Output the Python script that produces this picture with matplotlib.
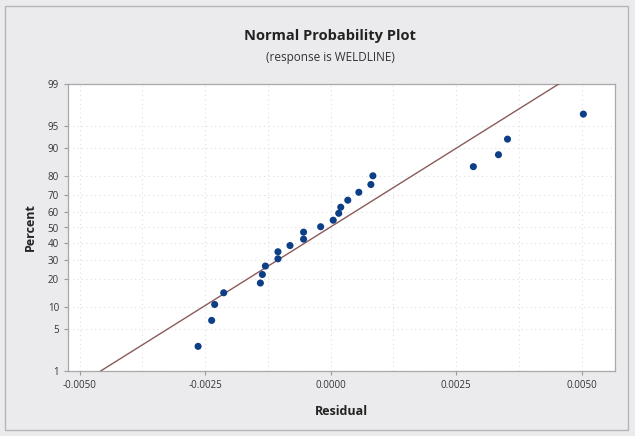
import numpy as np
import matplotlib
matplotlib.use("Agg")
import matplotlib.pyplot as plt
import matplotlib.patches as mpatches
from statistics import NormalDist

# residuals and their plotted percentiles
residual = [-0.00264, -0.00237, -0.00231, -0.00213, -0.00140, -0.00136,
            -0.00130, -0.00105, -0.00105, -0.00081, -0.00054, -0.00054,
            -0.00020, 0.00005, 0.00016, 0.00020, 0.00034, 0.00056,
            0.00080, 0.00084, 0.00284, 0.00334, 0.00352, 0.00503]
percent = [2.7, 6.6, 10.6, 14.5, 18.4, 22.3, 26.6, 30.6, 34.7, 38.5, 42.5,
           47.0, 50.5, 54.7, 59.1, 62.9, 67.1, 71.6, 75.7, 79.9, 83.8, 88.1,
           92.4, 96.7]

# fitted normal reference line
fit_mean = -0.00002
fit_sd = 0.00196

y_ticks = [1, 5, 10, 20, 30, 40, 50, 60, 70, 80, 90, 95, 99]
x_ticks = [-0.005, -0.0025, 0.0, 0.0025, 0.005]
x_labels = ["-0.0050", "-0.0025", "0.0000", "0.0025", "0.0050"]

_nd = NormalDist()
_ppf = np.vectorize(lambda p: _nd.inv_cdf(min(max(p / 100.0, 1e-9), 1 - 1e-9)),
                    otypes=[float])
_cdf = np.vectorize(lambda z: 100.0 * _nd.cdf(z), otypes=[float])


def prob_fwd(p):
    return _ppf(np.asarray(p, dtype=float))


def prob_inv(z):
    return _cdf(np.asarray(z, dtype=float))


BG = "#ebebed"
fig = plt.figure(figsize=(6.35, 4.36), dpi=100, facecolor=BG)
plt.rcParams["font.family"] = ["Open Sans", "DejaVu Sans"]

# outer frame of the graph window
fig.patches.append(mpatches.Rectangle((5 / 635, 6 / 436), 623 / 635, 424 / 436,
                                      transform=fig.transFigure, fill=False,
                                      edgecolor="#b5b5b8", linewidth=1.0))

ax = fig.add_axes([68 / 635, 1 - 371 / 436, 547 / 635, 287 / 436])
ax.set_facecolor("white")
ax.set_yscale("function", functions=(prob_fwd, prob_inv))

# reference line
pp = np.array([0.5, 99.5])
zz = np.array([_nd.inv_cdf(p / 100) for p in pp])
ax.plot(fit_mean + fit_sd * zz, pp, color="#8a5a5a", linewidth=1.0, zorder=3)

ax.scatter(residual, percent, s=26, color="#0d3f86", edgecolors="none", zorder=4)

ax.set_xlim(-0.00523, 0.00566)
ax.set_ylim(1, 99)
ax.set_xticks(x_ticks)
ax.set_xticklabels(x_labels)
ax.set_xticks(np.arange(-0.00375, 0.0056, 0.0025), minor=True)
ax.set_yticks(y_ticks)
ax.set_yticklabels([str(t) for t in y_ticks])
ax.yaxis.set_minor_locator(matplotlib.ticker.NullLocator())

ax.tick_params(axis="both", labelsize=7, colors="#9a9a9a", labelcolor="#333333",
               length=3, width=0.8)
ax.tick_params(axis="x", which="minor", length=0)
ax.grid(True, which="both", color="#dedede", linestyle=(0, (1, 3)), linewidth=0.8)
for s in ax.spines.values():
    s.set_color("#a8a8a8")
    s.set_linewidth(0.9)

ax.set_xlabel("Residual", fontsize=9, fontweight="bold", color="#222222", labelpad=10)
ax.set_ylabel("Percent", fontsize=9, fontweight="bold", color="#222222", labelpad=8)

fig.text(330 / 635, 1 - 36 / 436, "Normal Probability Plot", ha="center", va="center",
         fontsize=10.5, fontweight="bold", color="#222222")
fig.text(330 / 635, 1 - 57 / 436, "(response is WELDLINE)", ha="center", va="center",
         fontsize=8.5, color="#333333")

fig.savefig("out.png", dpi=100, facecolor=BG)
